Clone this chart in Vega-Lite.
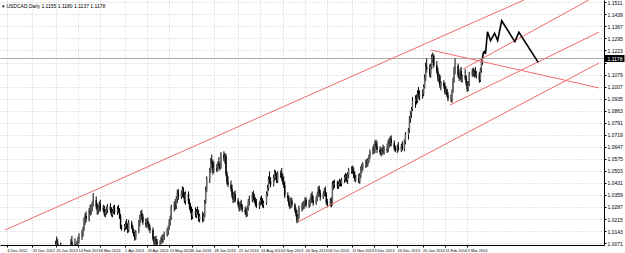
{
"$schema": "https://vega.github.io/schema/vega-lite/v6.json",
"width": 604, "height": 245,
"autosize": {"type": "none"},
"padding": {"left": 0, "top": 0, "right": 21, "bottom": 8},
"background": "#ffffff",
"title": {"text": "▾ USDCAD,Daily  1.1155 1.1180 1.1137 1.1178", "anchor": "start", "orient": "top", "offset": -9, "dx": 2, "fontSize": 5, "fontWeight": "normal", "font": "Liberation Sans", "color": "#000"},
"datasets": {
"candles": [
{"d":"2012-12-06","o":0.9925,"h":0.9940,"l":0.9900,"c":0.9915},
{"d":"2012-12-07","o":0.9915,"h":0.9935,"l":0.9880,"c":0.9890},
{"d":"2012-12-10","o":0.9890,"h":0.9905,"l":0.9870,"c":0.9885},
{"d":"2012-12-11","o":0.9885,"h":0.9895,"l":0.9850,"c":0.9860},
{"d":"2012-12-12","o":0.9860,"h":0.9880,"l":0.9835,"c":0.9845},
{"d":"2012-12-13","o":0.9845,"h":0.9870,"l":0.9825,"c":0.9860},
{"d":"2012-12-14","o":0.9860,"h":0.9885,"l":0.9845,"c":0.9870},
{"d":"2012-12-17","o":0.9870,"h":0.9880,"l":0.9840,"c":0.9855},
{"d":"2012-12-18","o":0.9855,"h":0.9875,"l":0.9820,"c":0.9830},
{"d":"2012-12-19","o":0.9830,"h":0.9860,"l":0.9815,"c":0.9850},
{"d":"2012-12-20","o":0.9850,"h":0.9905,"l":0.9845,"c":0.9895},
{"d":"2012-12-21","o":0.9895,"h":0.9930,"l":0.9875,"c":0.9920},
{"d":"2012-12-24","o":0.9920,"h":0.9935,"l":0.9900,"c":0.9915},
{"d":"2012-12-26","o":0.9915,"h":0.9950,"l":0.9905,"c":0.9940},
{"d":"2012-12-27","o":0.9940,"h":0.9965,"l":0.9920,"c":0.9930},
{"d":"2012-12-28","o":0.9930,"h":0.9960,"l":0.9910,"c":0.9945},
{"d":"2012-12-31","o":0.9945,"h":0.9970,"l":0.9915,"c":0.9925},
{"d":"2013-01-02","o":0.9925,"h":0.9930,"l":0.9840,"c":0.9850},
{"d":"2013-01-03","o":0.9850,"h":0.9890,"l":0.9835,"c":0.9880},
{"d":"2013-01-04","o":0.9880,"h":0.9900,"l":0.9855,"c":0.9865},
{"d":"2013-01-07","o":0.9865,"h":0.9885,"l":0.9840,"c":0.9870},
{"d":"2013-01-08","o":0.9870,"h":0.9895,"l":0.9850,"c":0.9880},
{"d":"2013-01-09","o":0.9880,"h":0.9905,"l":0.9860,"c":0.9870},
{"d":"2013-01-10","o":0.9870,"h":0.9880,"l":0.9840,"c":0.9855},
{"d":"2013-01-11","o":0.9855,"h":0.9875,"l":0.9835,"c":0.9850},
{"d":"2013-01-14","o":0.9850,"h":0.9890,"l":0.9845,"c":0.9880},
{"d":"2013-01-15","o":0.9880,"h":0.9905,"l":0.9860,"c":0.9890},
{"d":"2013-01-16","o":0.9890,"h":0.9915,"l":0.9870,"c":0.9905},
{"d":"2013-01-17","o":0.9905,"h":0.9925,"l":0.9880,"c":0.9915},
{"d":"2013-01-18","o":0.9915,"h":0.9950,"l":0.9900,"c":0.9935},
{"d":"2013-01-21","o":0.9935,"h":0.9965,"l":0.9920,"c":0.9950},
{"d":"2013-01-22","o":0.9950,"h":1.0010,"l":0.9940,"c":0.9995},
{"d":"2013-01-23","o":0.9995,"h":1.0085,"l":0.9985,"c":1.0050},
{"d":"2013-01-24","o":1.0050,"h":1.0110,"l":1.0030,"c":1.0070},
{"d":"2013-01-25","o":1.0070,"h":1.0095,"l":1.0035,"c":1.0060},
{"d":"2013-01-28","o":1.0060,"h":1.0075,"l":1.0010,"c":1.0025},
{"d":"2013-01-29","o":1.0025,"h":1.0040,"l":0.9985,"c":0.9995},
{"d":"2013-01-30","o":0.9995,"h":1.0015,"l":0.9960,"c":0.9975},
{"d":"2013-01-31","o":0.9975,"h":0.9990,"l":0.9945,"c":0.9970},
{"d":"2013-02-01","o":0.9970,"h":0.9985,"l":0.9930,"c":0.9960},
{"d":"2013-02-04","o":0.9960,"h":0.9990,"l":0.9945,"c":0.9980},
{"d":"2013-02-05","o":0.9980,"h":1.0020,"l":0.9970,"c":1.0010},
{"d":"2013-02-06","o":1.0010,"h":1.0050,"l":0.9995,"c":1.0040},
{"d":"2013-02-07","o":1.0040,"h":1.0095,"l":1.0025,"c":1.0080},
{"d":"2013-02-08","o":1.0080,"h":1.0115,"l":1.0045,"c":1.0060},
{"d":"2013-02-11","o":1.0060,"h":1.0100,"l":1.0035,"c":1.0045},
{"d":"2013-02-12","o":1.0045,"h":1.0070,"l":1.0010,"c":1.0035},
{"d":"2013-02-13","o":1.0035,"h":1.0085,"l":1.0025,"c":1.0070},
{"d":"2013-02-14","o":1.0070,"h":1.0110,"l":1.0050,"c":1.0095},
{"d":"2013-02-15","o":1.0095,"h":1.0130,"l":1.0070,"c":1.0110},
{"d":"2013-02-18","o":1.0110,"h":1.0150,"l":1.0090,"c":1.0135},
{"d":"2013-02-19","o":1.0135,"h":1.0170,"l":1.0110,"c":1.0160},
{"d":"2013-02-20","o":1.0160,"h":1.0225,"l":1.0145,"c":1.0210},
{"d":"2013-02-21","o":1.0210,"h":1.0250,"l":1.0180,"c":1.0235},
{"d":"2013-02-22","o":1.0235,"h":1.0260,"l":1.0195,"c":1.0215},
{"d":"2013-02-25","o":1.0215,"h":1.0280,"l":1.0200,"c":1.0265},
{"d":"2013-02-26","o":1.0265,"h":1.0300,"l":1.0235,"c":1.0250},
{"d":"2013-02-27","o":1.0250,"h":1.0305,"l":1.0240,"c":1.0290},
{"d":"2013-02-28","o":1.0290,"h":1.0320,"l":1.0260,"c":1.0305},
{"d":"2013-03-01","o":1.0305,"h":1.0370,"l":1.0290,"c":1.0325},
{"d":"2013-03-04","o":1.0325,"h":1.0350,"l":1.0275,"c":1.0290},
{"d":"2013-03-05","o":1.0290,"h":1.0310,"l":1.0240,"c":1.0265},
{"d":"2013-03-06","o":1.0265,"h":1.0300,"l":1.0245,"c":1.0285},
{"d":"2013-03-07","o":1.0285,"h":1.0320,"l":1.0260,"c":1.0305},
{"d":"2013-03-08","o":1.0305,"h":1.0330,"l":1.0260,"c":1.0280},
{"d":"2013-03-11","o":1.0280,"h":1.0300,"l":1.0255,"c":1.0270},
{"d":"2013-03-12","o":1.0270,"h":1.0295,"l":1.0230,"c":1.0245},
{"d":"2013-03-13","o":1.0245,"h":1.0275,"l":1.0225,"c":1.0260},
{"d":"2013-03-14","o":1.0260,"h":1.0290,"l":1.0240,"c":1.0275},
{"d":"2013-03-15","o":1.0275,"h":1.0305,"l":1.0250,"c":1.0290},
{"d":"2013-03-18","o":1.0290,"h":1.0310,"l":1.0250,"c":1.0265},
{"d":"2013-03-19","o":1.0265,"h":1.0285,"l":1.0230,"c":1.0240},
{"d":"2013-03-20","o":1.0240,"h":1.0275,"l":1.0225,"c":1.0260},
{"d":"2013-03-21","o":1.0260,"h":1.0295,"l":1.0245,"c":1.0280},
{"d":"2013-03-22","o":1.0280,"h":1.0300,"l":1.0240,"c":1.0255},
{"d":"2013-03-25","o":1.0255,"h":1.0290,"l":1.0240,"c":1.0275},
{"d":"2013-03-26","o":1.0275,"h":1.0300,"l":1.0250,"c":1.0265},
{"d":"2013-03-27","o":1.0265,"h":1.0280,"l":1.0215,"c":1.0230},
{"d":"2013-03-28","o":1.0230,"h":1.0245,"l":1.0155,"c":1.0165},
{"d":"2013-03-29","o":1.0165,"h":1.0180,"l":1.0145,"c":1.0160},
{"d":"2013-04-01","o":1.0160,"h":1.0185,"l":1.0140,"c":1.0170},
{"d":"2013-04-02","o":1.0170,"h":1.0200,"l":1.0150,"c":1.0185},
{"d":"2013-04-03","o":1.0185,"h":1.0215,"l":1.0155,"c":1.0165},
{"d":"2013-04-04","o":1.0165,"h":1.0190,"l":1.0130,"c":1.0150},
{"d":"2013-04-05","o":1.0150,"h":1.0210,"l":1.0135,"c":1.0190},
{"d":"2013-04-08","o":1.0190,"h":1.0205,"l":1.0155,"c":1.0165},
{"d":"2013-04-09","o":1.0165,"h":1.0180,"l":1.0130,"c":1.0140},
{"d":"2013-04-10","o":1.0140,"h":1.0155,"l":1.0110,"c":1.0120},
{"d":"2013-04-11","o":1.0120,"h":1.0140,"l":1.0085,"c":1.0100},
{"d":"2013-04-12","o":1.0100,"h":1.0150,"l":1.0090,"c":1.0140},
{"d":"2013-04-15","o":1.0140,"h":1.0210,"l":1.0130,"c":1.0195},
{"d":"2013-04-16","o":1.0195,"h":1.0240,"l":1.0170,"c":1.0225},
{"d":"2013-04-17","o":1.0225,"h":1.0265,"l":1.0195,"c":1.0250},
{"d":"2013-04-18","o":1.0250,"h":1.0270,"l":1.0210,"c":1.0230},
{"d":"2013-04-19","o":1.0230,"h":1.0245,"l":1.0180,"c":1.0195},
{"d":"2013-04-22","o":1.0195,"h":1.0220,"l":1.0165,"c":1.0180},
{"d":"2013-04-23","o":1.0180,"h":1.0215,"l":1.0160,"c":1.0200},
{"d":"2013-04-24","o":1.0200,"h":1.0225,"l":1.0170,"c":1.0185},
{"d":"2013-04-25","o":1.0185,"h":1.0195,"l":1.0145,"c":1.0160},
{"d":"2013-04-26","o":1.0160,"h":1.0180,"l":1.0130,"c":1.0150},
{"d":"2013-04-29","o":1.0150,"h":1.0165,"l":1.0085,"c":1.0095},
{"d":"2013-04-30","o":1.0095,"h":1.0110,"l":1.0060,"c":1.0075},
{"d":"2013-05-01","o":1.0075,"h":1.0110,"l":1.0055,"c":1.0095},
{"d":"2013-05-02","o":1.0095,"h":1.0115,"l":1.0060,"c":1.0080},
{"d":"2013-05-03","o":1.0080,"h":1.0095,"l":1.0050,"c":1.0065},
{"d":"2013-05-06","o":1.0065,"h":1.0090,"l":1.0045,"c":1.0075},
{"d":"2013-05-07","o":1.0075,"h":1.0110,"l":1.0065,"c":1.0100},
{"d":"2013-05-08","o":1.0100,"h":1.0120,"l":1.0070,"c":1.0085},
{"d":"2013-05-09","o":1.0085,"h":1.0125,"l":1.0075,"c":1.0110},
{"d":"2013-05-10","o":1.0110,"h":1.0140,"l":1.0090,"c":1.0125},
{"d":"2013-05-13","o":1.0125,"h":1.0160,"l":1.0110,"c":1.0150},
{"d":"2013-05-14","o":1.0150,"h":1.0175,"l":1.0120,"c":1.0165},
{"d":"2013-05-15","o":1.0165,"h":1.0215,"l":1.0150,"c":1.0200},
{"d":"2013-05-16","o":1.0200,"h":1.0235,"l":1.0175,"c":1.0220},
{"d":"2013-05-17","o":1.0220,"h":1.0300,"l":1.0210,"c":1.0285},
{"d":"2013-05-20","o":1.0285,"h":1.0320,"l":1.0260,"c":1.0300},
{"d":"2013-05-21","o":1.0300,"h":1.0335,"l":1.0270,"c":1.0290},
{"d":"2013-05-22","o":1.0290,"h":1.0350,"l":1.0275,"c":1.0335},
{"d":"2013-05-23","o":1.0335,"h":1.0390,"l":1.0310,"c":1.0370},
{"d":"2013-05-24","o":1.0370,"h":1.0395,"l":1.0330,"c":1.0350},
{"d":"2013-05-27","o":1.0350,"h":1.0385,"l":1.0335,"c":1.0370},
{"d":"2013-05-28","o":1.0370,"h":1.0410,"l":1.0345,"c":1.0395},
{"d":"2013-05-29","o":1.0395,"h":1.0405,"l":1.0340,"c":1.0355},
{"d":"2013-05-30","o":1.0355,"h":1.0375,"l":1.0310,"c":1.0325},
{"d":"2013-05-31","o":1.0325,"h":1.0380,"l":1.0300,"c":1.0365},
{"d":"2013-06-03","o":1.0365,"h":1.0380,"l":1.0305,"c":1.0320},
{"d":"2013-06-04","o":1.0320,"h":1.0335,"l":1.0270,"c":1.0285},
{"d":"2013-06-05","o":1.0285,"h":1.0310,"l":1.0250,"c":1.0265},
{"d":"2013-06-06","o":1.0265,"h":1.0290,"l":1.0210,"c":1.0230},
{"d":"2013-06-07","o":1.0230,"h":1.0275,"l":1.0215,"c":1.0260},
{"d":"2013-06-10","o":1.0260,"h":1.0285,"l":1.0225,"c":1.0240},
{"d":"2013-06-11","o":1.0240,"h":1.0275,"l":1.0220,"c":1.0260},
{"d":"2013-06-12","o":1.0260,"h":1.0290,"l":1.0240,"c":1.0250},
{"d":"2013-06-13","o":1.0250,"h":1.0270,"l":1.0200,"c":1.0215},
{"d":"2013-06-14","o":1.0215,"h":1.0245,"l":1.0195,"c":1.0230},
{"d":"2013-06-17","o":1.0230,"h":1.0260,"l":1.0195,"c":1.0210},
{"d":"2013-06-18","o":1.0210,"h":1.0250,"l":1.0200,"c":1.0235},
{"d":"2013-06-19","o":1.0235,"h":1.0330,"l":1.0225,"c":1.0315},
{"d":"2013-06-20","o":1.0315,"h":1.0410,"l":1.0305,"c":1.0390},
{"d":"2013-06-21","o":1.0390,"h":1.0470,"l":1.0375,"c":1.0455},
{"d":"2013-06-24","o":1.0455,"h":1.0520,"l":1.0430,"c":1.0505},
{"d":"2013-06-25","o":1.0505,"h":1.0580,"l":1.0490,"c":1.0560},
{"d":"2013-06-26","o":1.0560,"h":1.0600,"l":1.0520,"c":1.0545},
{"d":"2013-06-27","o":1.0545,"h":1.0570,"l":1.0480,"c":1.0505},
{"d":"2013-06-28","o":1.0505,"h":1.0560,"l":1.0490,"c":1.0520},
{"d":"2013-07-01","o":1.0520,"h":1.0545,"l":1.0495,"c":1.0510},
{"d":"2013-07-02","o":1.0510,"h":1.0560,"l":1.0500,"c":1.0545},
{"d":"2013-07-03","o":1.0545,"h":1.0585,"l":1.0515,"c":1.0530},
{"d":"2013-07-04","o":1.0530,"h":1.0555,"l":1.0505,"c":1.0520},
{"d":"2013-07-05","o":1.0520,"h":1.0615,"l":1.0515,"c":1.0600},
{"d":"2013-07-08","o":1.0600,"h":1.0620,"l":1.0560,"c":1.0575},
{"d":"2013-07-09","o":1.0575,"h":1.0610,"l":1.0545,"c":1.0590},
{"d":"2013-07-10","o":1.0590,"h":1.0605,"l":1.0470,"c":1.0485},
{"d":"2013-07-11","o":1.0485,"h":1.0500,"l":1.0420,"c":1.0435},
{"d":"2013-07-12","o":1.0435,"h":1.0470,"l":1.0405,"c":1.0420},
{"d":"2013-07-15","o":1.0420,"h":1.0445,"l":1.0380,"c":1.0395},
{"d":"2013-07-16","o":1.0395,"h":1.0420,"l":1.0340,"c":1.0355},
{"d":"2013-07-17","o":1.0355,"h":1.0375,"l":1.0310,"c":1.0330},
{"d":"2013-07-18","o":1.0330,"h":1.0380,"l":1.0315,"c":1.0365},
{"d":"2013-07-19","o":1.0365,"h":1.0385,"l":1.0315,"c":1.0325},
{"d":"2013-07-22","o":1.0325,"h":1.0340,"l":1.0290,"c":1.0300},
{"d":"2013-07-23","o":1.0300,"h":1.0315,"l":1.0260,"c":1.0275},
{"d":"2013-07-24","o":1.0275,"h":1.0320,"l":1.0265,"c":1.0305},
{"d":"2013-07-25","o":1.0305,"h":1.0330,"l":1.0275,"c":1.0285},
{"d":"2013-07-26","o":1.0285,"h":1.0305,"l":1.0255,"c":1.0270},
{"d":"2013-07-29","o":1.0270,"h":1.0290,"l":1.0240,"c":1.0255},
{"d":"2013-07-30","o":1.0255,"h":1.0280,"l":1.0225,"c":1.0240},
{"d":"2013-07-31","o":1.0240,"h":1.0295,"l":1.0230,"c":1.0275},
{"d":"2013-08-01","o":1.0275,"h":1.0335,"l":1.0265,"c":1.0320},
{"d":"2013-08-02","o":1.0320,"h":1.0355,"l":1.0295,"c":1.0330},
{"d":"2013-08-05","o":1.0330,"h":1.0375,"l":1.0315,"c":1.0360},
{"d":"2013-08-06","o":1.0360,"h":1.0385,"l":1.0325,"c":1.0340},
{"d":"2013-08-07","o":1.0340,"h":1.0365,"l":1.0310,"c":1.0325},
{"d":"2013-08-08","o":1.0325,"h":1.0345,"l":1.0290,"c":1.0305},
{"d":"2013-08-09","o":1.0305,"h":1.0335,"l":1.0280,"c":1.0295},
{"d":"2013-08-12","o":1.0295,"h":1.0320,"l":1.0275,"c":1.0310},
{"d":"2013-08-13","o":1.0310,"h":1.0345,"l":1.0295,"c":1.0330},
{"d":"2013-08-14","o":1.0330,"h":1.0355,"l":1.0300,"c":1.0315},
{"d":"2013-08-15","o":1.0315,"h":1.0340,"l":1.0285,"c":1.0300},
{"d":"2013-08-16","o":1.0300,"h":1.0325,"l":1.0280,"c":1.0310},
{"d":"2013-08-19","o":1.0310,"h":1.0380,"l":1.0300,"c":1.0365},
{"d":"2013-08-20","o":1.0365,"h":1.0420,"l":1.0350,"c":1.0400},
{"d":"2013-08-21","o":1.0400,"h":1.0470,"l":1.0385,"c":1.0455},
{"d":"2013-08-22","o":1.0455,"h":1.0500,"l":1.0425,"c":1.0440},
{"d":"2013-08-23","o":1.0440,"h":1.0465,"l":1.0405,"c":1.0420},
{"d":"2013-08-26","o":1.0420,"h":1.0480,"l":1.0410,"c":1.0460},
{"d":"2013-08-27","o":1.0460,"h":1.0510,"l":1.0440,"c":1.0495},
{"d":"2013-08-28","o":1.0495,"h":1.0505,"l":1.0450,"c":1.0470},
{"d":"2013-08-29","o":1.0470,"h":1.0490,"l":1.0430,"c":1.0445},
{"d":"2013-08-30","o":1.0445,"h":1.0500,"l":1.0430,"c":1.0485},
{"d":"2013-09-02","o":1.0485,"h":1.0505,"l":1.0460,"c":1.0480},
{"d":"2013-09-03","o":1.0480,"h":1.0520,"l":1.0445,"c":1.0465},
{"d":"2013-09-04","o":1.0465,"h":1.0490,"l":1.0420,"c":1.0435},
{"d":"2013-09-05","o":1.0435,"h":1.0470,"l":1.0400,"c":1.0415},
{"d":"2013-09-06","o":1.0415,"h":1.0440,"l":1.0340,"c":1.0355},
{"d":"2013-09-09","o":1.0355,"h":1.0375,"l":1.0320,"c":1.0340},
{"d":"2013-09-10","o":1.0340,"h":1.0355,"l":1.0290,"c":1.0305},
{"d":"2013-09-11","o":1.0305,"h":1.0320,"l":1.0275,"c":1.0290},
{"d":"2013-09-12","o":1.0290,"h":1.0345,"l":1.0280,"c":1.0325},
{"d":"2013-09-13","o":1.0325,"h":1.0340,"l":1.0285,"c":1.0300},
{"d":"2013-09-16","o":1.0300,"h":1.0310,"l":1.0255,"c":1.0270},
{"d":"2013-09-17","o":1.0270,"h":1.0285,"l":1.0230,"c":1.0245},
{"d":"2013-09-18","o":1.0245,"h":1.0270,"l":1.0190,"c":1.0205},
{"d":"2013-09-19","o":1.0205,"h":1.0240,"l":1.0195,"c":1.0225},
{"d":"2013-09-20","o":1.0225,"h":1.0295,"l":1.0215,"c":1.0280},
{"d":"2013-09-23","o":1.0280,"h":1.0310,"l":1.0260,"c":1.0295},
{"d":"2013-09-24","o":1.0295,"h":1.0320,"l":1.0270,"c":1.0300},
{"d":"2013-09-25","o":1.0300,"h":1.0325,"l":1.0275,"c":1.0310},
{"d":"2013-09-26","o":1.0310,"h":1.0345,"l":1.0290,"c":1.0330},
{"d":"2013-09-27","o":1.0330,"h":1.0345,"l":1.0285,"c":1.0300},
{"d":"2013-09-30","o":1.0300,"h":1.0330,"l":1.0280,"c":1.0315},
{"d":"2013-10-01","o":1.0315,"h":1.0340,"l":1.0290,"c":1.0325},
{"d":"2013-10-02","o":1.0325,"h":1.0370,"l":1.0310,"c":1.0355},
{"d":"2013-10-03","o":1.0355,"h":1.0380,"l":1.0315,"c":1.0330},
{"d":"2013-10-04","o":1.0330,"h":1.0355,"l":1.0295,"c":1.0310},
{"d":"2013-10-07","o":1.0310,"h":1.0350,"l":1.0300,"c":1.0335},
{"d":"2013-10-08","o":1.0335,"h":1.0375,"l":1.0320,"c":1.0360},
{"d":"2013-10-09","o":1.0360,"h":1.0410,"l":1.0345,"c":1.0395},
{"d":"2013-10-10","o":1.0395,"h":1.0415,"l":1.0355,"c":1.0370},
{"d":"2013-10-11","o":1.0370,"h":1.0390,"l":1.0325,"c":1.0345},
{"d":"2013-10-14","o":1.0345,"h":1.0380,"l":1.0335,"c":1.0365},
{"d":"2013-10-15","o":1.0365,"h":1.0400,"l":1.0350,"c":1.0385},
{"d":"2013-10-16","o":1.0385,"h":1.0410,"l":1.0350,"c":1.0365},
{"d":"2013-10-17","o":1.0365,"h":1.0375,"l":1.0300,"c":1.0315},
{"d":"2013-10-18","o":1.0315,"h":1.0335,"l":1.0285,"c":1.0300},
{"d":"2013-10-21","o":1.0300,"h":1.0340,"l":1.0290,"c":1.0325},
{"d":"2013-10-22","o":1.0325,"h":1.0345,"l":1.0285,"c":1.0300},
{"d":"2013-10-23","o":1.0300,"h":1.0440,"l":1.0295,"c":1.0420},
{"d":"2013-10-24","o":1.0420,"h":1.0445,"l":1.0390,"c":1.0425},
{"d":"2013-10-25","o":1.0425,"h":1.0450,"l":1.0400,"c":1.0430},
{"d":"2013-10-28","o":1.0430,"h":1.0445,"l":1.0395,"c":1.0410},
{"d":"2013-10-29","o":1.0410,"h":1.0440,"l":1.0395,"c":1.0425},
{"d":"2013-10-30","o":1.0425,"h":1.0455,"l":1.0410,"c":1.0440},
{"d":"2013-10-31","o":1.0440,"h":1.0450,"l":1.0410,"c":1.0425},
{"d":"2013-11-01","o":1.0425,"h":1.0460,"l":1.0410,"c":1.0450},
{"d":"2013-11-04","o":1.0450,"h":1.0480,"l":1.0430,"c":1.0465},
{"d":"2013-11-05","o":1.0465,"h":1.0490,"l":1.0440,"c":1.0470},
{"d":"2013-11-06","o":1.0470,"h":1.0485,"l":1.0435,"c":1.0445},
{"d":"2013-11-07","o":1.0445,"h":1.0495,"l":1.0425,"c":1.0480},
{"d":"2013-11-08","o":1.0480,"h":1.0520,"l":1.0460,"c":1.0505},
{"d":"2013-11-11","o":1.0505,"h":1.0530,"l":1.0485,"c":1.0510},
{"d":"2013-11-12","o":1.0510,"h":1.0535,"l":1.0485,"c":1.0500},
{"d":"2013-11-13","o":1.0500,"h":1.0525,"l":1.0460,"c":1.0475},
{"d":"2013-11-14","o":1.0475,"h":1.0500,"l":1.0440,"c":1.0455},
{"d":"2013-11-15","o":1.0455,"h":1.0480,"l":1.0435,"c":1.0460},
{"d":"2013-11-18","o":1.0460,"h":1.0485,"l":1.0430,"c":1.0440},
{"d":"2013-11-19","o":1.0440,"h":1.0490,"l":1.0425,"c":1.0475},
{"d":"2013-11-20","o":1.0475,"h":1.0530,"l":1.0460,"c":1.0515},
{"d":"2013-11-21","o":1.0515,"h":1.0545,"l":1.0490,"c":1.0525},
{"d":"2013-11-22","o":1.0525,"h":1.0555,"l":1.0505,"c":1.0540},
{"d":"2013-11-25","o":1.0540,"h":1.0570,"l":1.0520,"c":1.0555},
{"d":"2013-11-26","o":1.0555,"h":1.0575,"l":1.0525,"c":1.0545},
{"d":"2013-11-27","o":1.0545,"h":1.0580,"l":1.0530,"c":1.0565},
{"d":"2013-11-28","o":1.0565,"h":1.0600,"l":1.0550,"c":1.0590},
{"d":"2013-11-29","o":1.0590,"h":1.0630,"l":1.0575,"c":1.0615},
{"d":"2013-12-02","o":1.0615,"h":1.0650,"l":1.0600,"c":1.0635},
{"d":"2013-12-03","o":1.0635,"h":1.0665,"l":1.0605,"c":1.0625},
{"d":"2013-12-04","o":1.0625,"h":1.0685,"l":1.0610,"c":1.0665},
{"d":"2013-12-05","o":1.0665,"h":1.0690,"l":1.0635,"c":1.0650},
{"d":"2013-12-06","o":1.0650,"h":1.0680,"l":1.0610,"c":1.0630},
{"d":"2013-12-09","o":1.0630,"h":1.0650,"l":1.0600,"c":1.0615},
{"d":"2013-12-10","o":1.0615,"h":1.0640,"l":1.0590,"c":1.0605},
{"d":"2013-12-11","o":1.0605,"h":1.0645,"l":1.0595,"c":1.0630},
{"d":"2013-12-12","o":1.0630,"h":1.0660,"l":1.0605,"c":1.0615},
{"d":"2013-12-13","o":1.0615,"h":1.0650,"l":1.0600,"c":1.0635},
{"d":"2013-12-16","o":1.0635,"h":1.0665,"l":1.0610,"c":1.0625},
{"d":"2013-12-17","o":1.0625,"h":1.0690,"l":1.0615,"c":1.0675},
{"d":"2013-12-18","o":1.0675,"h":1.0700,"l":1.0640,"c":1.0665},
{"d":"2013-12-19","o":1.0665,"h":1.0710,"l":1.0650,"c":1.0695},
{"d":"2013-12-20","o":1.0695,"h":1.0715,"l":1.0650,"c":1.0670},
{"d":"2013-12-23","o":1.0670,"h":1.0685,"l":1.0625,"c":1.0640},
{"d":"2013-12-24","o":1.0640,"h":1.0655,"l":1.0615,"c":1.0625},
{"d":"2013-12-26","o":1.0625,"h":1.0660,"l":1.0610,"c":1.0645},
{"d":"2013-12-27","o":1.0645,"h":1.0675,"l":1.0620,"c":1.0630},
{"d":"2013-12-30","o":1.0630,"h":1.0665,"l":1.0615,"c":1.0650},
{"d":"2013-12-31","o":1.0650,"h":1.0680,"l":1.0625,"c":1.0635},
{"d":"2014-01-02","o":1.0635,"h":1.0690,"l":1.0620,"c":1.0675},
{"d":"2014-01-03","o":1.0675,"h":1.0735,"l":1.0660,"c":1.0720},
{"d":"2014-01-06","o":1.0720,"h":1.0760,"l":1.0690,"c":1.0745},
{"d":"2014-01-07","o":1.0745,"h":1.0830,"l":1.0730,"c":1.0815},
{"d":"2014-01-08","o":1.0815,"h":1.0860,"l":1.0790,"c":1.0845},
{"d":"2014-01-09","o":1.0845,"h":1.0885,"l":1.0820,"c":1.0870},
{"d":"2014-01-10","o":1.0870,"h":1.0945,"l":1.0860,"c":1.0920},
{"d":"2014-01-13","o":1.0920,"h":1.0955,"l":1.0880,"c":1.0935},
{"d":"2014-01-14","o":1.0935,"h":1.0960,"l":1.0900,"c":1.0920},
{"d":"2014-01-15","o":1.0920,"h":1.0985,"l":1.0910,"c":1.0965},
{"d":"2014-01-16","o":1.0965,"h":1.1005,"l":1.0935,"c":1.0950},
{"d":"2014-01-17","o":1.0950,"h":1.0985,"l":1.0925,"c":1.0960},
{"d":"2014-01-20","o":1.0960,"h":1.0990,"l":1.0935,"c":1.0965},
{"d":"2014-01-21","o":1.0965,"h":1.1020,"l":1.0950,"c":1.1005},
{"d":"2014-01-22","o":1.1005,"h":1.1080,"l":1.0995,"c":1.1060},
{"d":"2014-01-23","o":1.1060,"h":1.1150,"l":1.1040,"c":1.1125},
{"d":"2014-01-24","o":1.1125,"h":1.1175,"l":1.1090,"c":1.1110},
{"d":"2014-01-27","o":1.1110,"h":1.1140,"l":1.1065,"c":1.1085},
{"d":"2014-01-28","o":1.1085,"h":1.1145,"l":1.1060,"c":1.1125},
{"d":"2014-01-29","o":1.1125,"h":1.1200,"l":1.1110,"c":1.1175},
{"d":"2014-01-30","o":1.1175,"h":1.1210,"l":1.1150,"c":1.1190},
{"d":"2014-01-31","o":1.1190,"h":1.1200,"l":1.1120,"c":1.1135},
{"d":"2014-02-03","o":1.1135,"h":1.1160,"l":1.1085,"c":1.1100},
{"d":"2014-02-04","o":1.1100,"h":1.1120,"l":1.1040,"c":1.1060},
{"d":"2014-02-05","o":1.1060,"h":1.1085,"l":1.1030,"c":1.1070},
{"d":"2014-02-06","o":1.1070,"h":1.1080,"l":1.1000,"c":1.1015},
{"d":"2014-02-07","o":1.1015,"h":1.1040,"l":1.0985,"c":1.1030},
{"d":"2014-02-10","o":1.1030,"h":1.1045,"l":1.0995,"c":1.1010},
{"d":"2014-02-11","o":1.1010,"h":1.1030,"l":1.0960,"c":1.0975},
{"d":"2014-02-12","o":1.0975,"h":1.1010,"l":1.0960,"c":1.0990},
{"d":"2014-02-13","o":1.0990,"h":1.0995,"l":1.0945,"c":1.0955},
{"d":"2014-02-14","o":1.0955,"h":1.0975,"l":1.0920,"c":1.0935},
{"d":"2014-02-17","o":1.0935,"h":1.0960,"l":1.0915,"c":1.0945},
{"d":"2014-02-18","o":1.0945,"h":1.0990,"l":1.0910,"c":1.0980},
{"d":"2014-02-19","o":1.0980,"h":1.1060,"l":1.0970,"c":1.1045},
{"d":"2014-02-20","o":1.1045,"h":1.1125,"l":1.1030,"c":1.1100},
{"d":"2014-02-21","o":1.1100,"h":1.1175,"l":1.1080,"c":1.1130},
{"d":"2014-02-24","o":1.1130,"h":1.1145,"l":1.1060,"c":1.1075},
{"d":"2014-02-25","o":1.1075,"h":1.1095,"l":1.1040,"c":1.1060},
{"d":"2014-02-26","o":1.1060,"h":1.1115,"l":1.1050,"c":1.1100},
{"d":"2014-02-27","o":1.1100,"h":1.1125,"l":1.1035,"c":1.1050},
{"d":"2014-02-28","o":1.1050,"h":1.1080,"l":1.1030,"c":1.1070},
{"d":"2014-03-03","o":1.1070,"h":1.1110,"l":1.1045,"c":1.1060},
{"d":"2014-03-04","o":1.1060,"h":1.1075,"l":1.1010,"c":1.1025},
{"d":"2014-03-05","o":1.1025,"h":1.1040,"l":1.0975,"c":1.0990},
{"d":"2014-03-06","o":1.0990,"h":1.1040,"l":1.0980,"c":1.1025},
{"d":"2014-03-07","o":1.1025,"h":1.1095,"l":1.1010,"c":1.1080},
{"d":"2014-03-10","o":1.1080,"h":1.1115,"l":1.1065,"c":1.1100},
{"d":"2014-03-11","o":1.1100,"h":1.1120,"l":1.1070,"c":1.1085},
{"d":"2014-03-12","o":1.1085,"h":1.1110,"l":1.1060,"c":1.1095},
{"d":"2014-03-13","o":1.1095,"h":1.1125,"l":1.1065,"c":1.1075},
{"d":"2014-03-14","o":1.1075,"h":1.1100,"l":1.1055,"c":1.1085},
{"d":"2014-03-17","o":1.1085,"h":1.1095,"l":1.1030,"c":1.1045},
{"d":"2014-03-18","o":1.1045,"h":1.1120,"l":1.1035,"c":1.1105},
{"d":"2014-03-19","o":1.1105,"h":1.1170,"l":1.1090,"c":1.1155},
{"d":"2014-03-20","o":1.1155,"h":1.1180,"l":1.1137,"c":1.1178}
],
"channels": [
{"id":"u","d":"2012-12-04","p":1.0149},{"id":"u","d":"2014-04-30","p":1.1525},
{"id":"b","d":"2014-03-01","p":1.1112},{"id":"b","d":"2014-07-03","p":1.1525},
{"id":"m","d":"2014-02-16","p":1.0897},{"id":"m","d":"2014-07-13","p":1.1333},
{"id":"lo","d":"2013-09-19","p":1.0197},{"id":"lo","d":"2014-07-13","p":1.1148},
{"id":"dn","d":"2014-01-28","p":1.1226},{"id":"dn","d":"2014-07-13","p":1.0999}
],
"proj": [
{"d":"2014-03-20","p":1.1178},{"d":"2014-03-21","p":1.1211},{"d":"2014-03-22","p":1.1216},{"d":"2014-03-23","p":1.1202},
{"d":"2014-03-25","p":1.1335},{"d":"2014-03-28","p":1.1282},{"d":"2014-04-01","p":1.1326},{"d":"2014-04-04","p":1.1282},
{"d":"2014-04-08","p":1.1401},{"d":"2014-04-21","p":1.1276},{"d":"2014-04-25","p":1.1332},{"d":"2014-05-14","p":1.1152}
]
},
"layer": [
{
"data": {"name": "candles"},
"mark": {"type": "rule", "clip": true, "strokeWidth": 1, "color": "#000"},
"encoding": {
"x": {"field": "d", "type": "temporal",
"scale": {"type": "utc", "domain": [{"year": 2012, "month": 12, "date": 4, "utc": true}, {"year": 2014, "month": 7, "date": 13, "utc": true}]},
"axis": {"orient": "bottom", "format": "%-d %b %Y", "labelAlign": "left", "labelPadding": 1, "labelFlush": false, "labelOverlap": false, "labelBound": false, "grid": true, "tickCount": 200, "labelFont": "Liberation Sans", "labelFontSize": 3.9,
"values": [
{"year":2012,"month":12,"date":6,"utc":true},{"year":2012,"month":12,"date":31,"utc":true},{"year":2013,"month":1,"date":23,"utc":true},
{"year":2013,"month":2,"date":14,"utc":true},{"year":2013,"month":3,"date":8,"utc":true},{"year":2013,"month":4,"date":1,"utc":true},
{"year":2013,"month":4,"date":23,"utc":true},{"year":2013,"month":5,"date":15,"utc":true},{"year":2013,"month":6,"date":6,"utc":true},
{"year":2013,"month":6,"date":28,"utc":true},{"year":2013,"month":7,"date":22,"utc":true},{"year":2013,"month":8,"date":13,"utc":true},
{"year":2013,"month":9,"date":4,"utc":true},{"year":2013,"month":9,"date":26,"utc":true},{"year":2013,"month":10,"date":18,"utc":true},
{"year":2013,"month":11,"date":11,"utc":true},{"year":2013,"month":12,"date":3,"utc":true},{"year":2013,"month":12,"date":26,"utc":true},
{"year":2014,"month":1,"date":20,"utc":true},{"year":2014,"month":2,"date":11,"utc":true},{"year":2014,"month":3,"date":5,"utc":true}]}},
"y": {"field": "l", "type": "quantitative",
"scale": {"domain": [1.00596, 1.15249], "zero": false, "nice": false},
"axis": {"orient": "right", "format": ".4f", "grid": true, "labelOverlap": false, "labelBound": false, "tickCount": 200, "labelFont": "Liberation Sans", "labelFontSize": 5,
"values": [1.1511,1.1439,1.1367,1.1295,1.1223,1.1178,1.1151,1.1079,1.1007,1.0935,1.0863,1.0791,1.0719,1.0647,1.0575,1.0503,1.0431,1.0359,1.0287,1.0215,1.0143,1.0071],
"labelColor": {"condition": {"test": "datum.value === 1.1178", "value": "#ffffff"}, "value": "#000000"},
"labelOpacity": {"condition": {"test": "datum.value === 1.1151", "value": 0}, "value": 1},
"tickSize": {"condition": {"test": "datum.value === 1.1178", "value": 20}, "value": 2},
"labelPadding": {"condition": {"test": "datum.value === 1.1178", "value": -17}, "value": 1},
"tickWidth": {"condition": {"test": "datum.value === 1.1178", "value": 7}, "value": 1},
"tickColor": "#000000",
"gridColor": {"condition": {"test": "datum.value === 1.1178", "value": "#a8a8a8"}, "value": "#cccccc"},
"gridDash": {"condition": {"test": "datum.value === 1.1178", "value": []}, "value": [1, 2]}}},
"y2": {"field": "h"}
}
},
{
"data": {"name": "candles"},
"mark": {"type": "bar", "clip": true, "size": 1.4},
"encoding": {
"x": {"field": "d", "type": "temporal"},
"y": {"field": "o", "type": "quantitative"},
"y2": {"field": "c"},
"color": {"condition": {"test": "datum.c >= datum.o", "value": "#666666"}, "value": "#000000"}
}
},
{
"data": {"name": "channels"},
"mark": {"type": "line", "clip": true, "strokeWidth": 1, "color": "#f26b6b"},
"encoding": {
"x": {"field": "d", "type": "temporal"},
"y": {"field": "p", "type": "quantitative"},
"detail": {"field": "id"}
}
},
{
"data": {"name": "proj"},
"mark": {"type": "line", "clip": true, "strokeWidth": 1.6, "color": "#000000"},
"encoding": {
"x": {"field": "d", "type": "temporal"},
"y": {"field": "p", "type": "quantitative"}
}
}
],
"config": {
"view": {"stroke": null},
"axis": {"title": null, "labelColor": "#000", "tickColor": "#000", "tickSize": 2, "domainColor": "#000", "domainWidth": 1, "gridColor": "#cccccc", "gridDash": [1, 2], "gridWidth": 1, "labelOverlap": false}
}
}
